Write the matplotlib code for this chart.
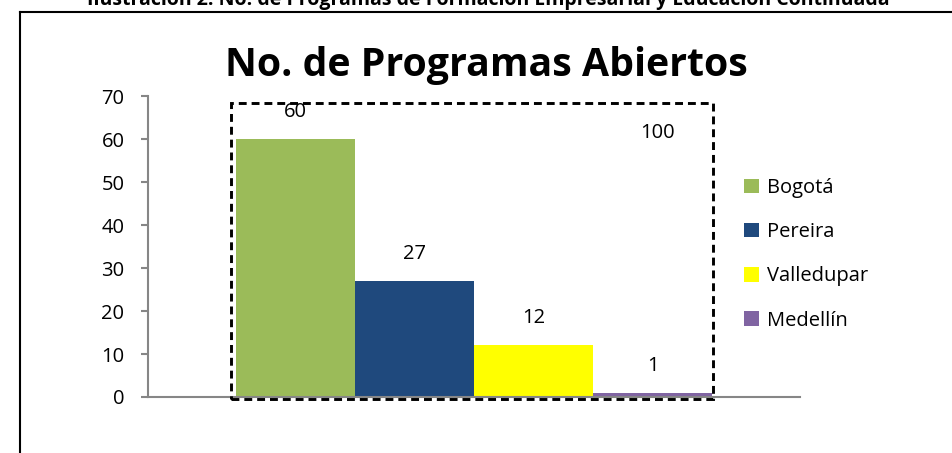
import matplotlib
matplotlib.use("Agg")
import matplotlib.pyplot as plt
from matplotlib.patches import Patch, Rectangle
from matplotlib.lines import Line2D

plt.rcParams['font.family'] = ['Open Sans', 'DejaVu Sans']

cities = ["Bogotá", "Pereira", "Valledupar", "Medellín"]
values = [60, 27, 12, 1]
colors = ["#9BBB59", "#1F497D", "#FFFF00", "#8064A2"]
total_label = "100"
title = "No. de Programas Abiertos"
caption = "Ilustración 2. No. de Programas de Formación Empresarial y Educación Continuada"
yticks = [0, 10, 20, 30, 40, 50, 60, 70]

W, H = 953, 453
fig = plt.figure(figsize=(W / 100, H / 100), dpi=100)
FS = 14.5

ax = fig.add_axes([148 / W, 1 - 397 / H, (800 - 148) / W, (397 - 96) / H])
bw = 119 / 652
n = len(values)
for i, (c, v, col) in enumerate(zip(cities, values, colors)):
    x = (i - (n - 1) / 2) * bw
    ax.bar(x, v, width=bw, color=col, label=c, zorder=2)
    ax.annotate(str(v), (x, v), xytext=(0, 27), textcoords='offset pixels',
                ha='center', va='center', fontsize=FS, color='black')

ax.set_xlim(-0.5, 0.5)
ax.set_ylim(0, 70)
ax.set_yticks(yticks)
ax.set_xticks([])
for s in ['top', 'right']:
    ax.spines[s].set_visible(False)
for s in ['left', 'bottom']:
    ax.spines[s].set_color('#868686')
    ax.spines[s].set_linewidth(1.5)
ax.tick_params(axis='y', colors='#868686', length=5, width=1.5, labelcolor='black',
               labelsize=FS, pad=12)
ax.patch.set_alpha(0)

# dashed plot-area border
rect = Rectangle((231 / W, 1 - 399 / H), (713 - 231) / W, (399 - 103) / H,
                 transform=fig.transFigure, fill=False, edgecolor='black',
                 linestyle=(0, (2.7, 1.7)), linewidth=2.1, zorder=5)
fig.patches.append(rect)

fig.text(657 / W, 1 - 133 / H, total_label, ha='center', va='center', fontsize=FS)

fig.text(486 / W, 1 - 65 / H, title, ha='center', va='center', fontsize=28.3,
         fontweight='bold')

fig.text(488 / W, 1 - 5 / H, caption, ha='center', va='baseline', fontsize=14,
         fontweight='bold')

# frame lines
fig.add_artist(Line2D([20 / W, 1], [1 - 12 / H, 1 - 12 / H], transform=fig.transFigure,
                      color='black', linewidth=1.5))
fig.add_artist(Line2D([20 / W, 20 / W], [1 - 12 / H, 0], transform=fig.transFigure,
                      color='black', linewidth=1.5))

handles = [Patch(facecolor=c, edgecolor='none') for c in colors]
fig.legend(handles, cities, loc='upper left', bbox_to_anchor=(736 / W, 1 - 170 / H),
           frameon=False, fontsize=FS, handlelength=0.72, handleheight=0.72,
           handletextpad=0.4, labelspacing=1.2, borderaxespad=0)

fig.savefig("out.png", dpi=100)
